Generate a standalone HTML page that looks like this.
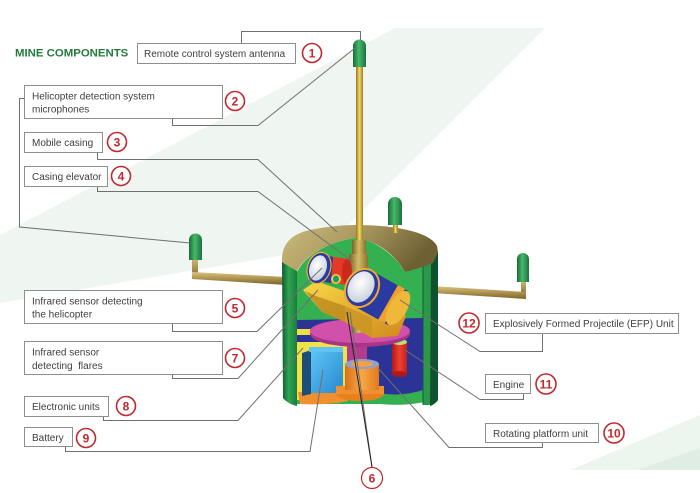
<!DOCTYPE html>
<html><head><meta charset="utf-8">
<style>
html,body{margin:0;padding:0;background:#fff;}
body{width:700px;height:493px;overflow:hidden;}
svg{display:block;}
.bx{fill:#fff;stroke:#8e8e8e;stroke-width:1;}
.tx{font-family:"Liberation Sans",Arial,sans-serif;font-size:10px;fill:#3e3e3e;}
.cn{fill:none;stroke:#707070;stroke-width:1;}
.ci{fill:#fff;stroke:#c0282e;stroke-width:1.6;}
.nm{font-family:"Liberation Sans",Arial,sans-serif;font-size:12px;font-weight:bold;fill:#c0282e;text-anchor:middle;}
</style></head><body>
<svg width="700" height="493" viewBox="0 0 700 493" xmlns="http://www.w3.org/2000/svg">
<defs>
 <linearGradient id="rod" x1="0" x2="1" y1="0" y2="0"><stop offset="0" stop-color="#9a7420"/><stop offset=".5" stop-color="#f2dc64"/><stop offset="1" stop-color="#a07a22"/></linearGradient>
 <linearGradient id="cap" x1="0" x2="1" y1="0" y2="0"><stop offset="0" stop-color="#1a6a38"/><stop offset=".45" stop-color="#46ba6a"/><stop offset="1" stop-color="#1d7040"/></linearGradient>
 <linearGradient id="bar" x1="0" x2="0" y1="0" y2="1"><stop offset="0" stop-color="#dcc57c"/><stop offset="1" stop-color="#7c6228"/></linearGradient>
 <linearGradient id="lid" x1="0" x2="1" y1="0" y2="0.3"><stop offset="0" stop-color="#cbbb7e"/><stop offset=".45" stop-color="#ad9d62"/><stop offset="1" stop-color="#6f6034"/></linearGradient>
 <linearGradient id="lw" x1="0" x2="1" y1="0" y2="0"><stop offset="0" stop-color="#0f5a32"/><stop offset=".45" stop-color="#2fa650"/><stop offset="1" stop-color="#1b7a3e"/></linearGradient>
 <linearGradient id="col" x1="0" x2="1" y1="0" y2="0"><stop offset="0" stop-color="#7a6428"/><stop offset=".5" stop-color="#d4bc68"/><stop offset="1" stop-color="#8a7230"/></linearGradient>
 <linearGradient id="gold" x1="0" x2="1" y1="0" y2="1"><stop offset="0" stop-color="#f8d848"/><stop offset="1" stop-color="#d08a1c"/></linearGradient>
 <linearGradient id="cyan" x1="0" x2="1" y1="0" y2="1"><stop offset="0" stop-color="#5cc4f4"/><stop offset="1" stop-color="#2a88d0"/></linearGradient>
 <linearGradient id="orng" x1="0" x2="1" y1="0" y2="0"><stop offset="0" stop-color="#d87018"/><stop offset=".5" stop-color="#f8a848"/><stop offset="1" stop-color="#e07a1c"/></linearGradient>
 <linearGradient id="red" x1="0" x2="1" y1="0" y2="0"><stop offset="0" stop-color="#b01818"/><stop offset=".5" stop-color="#f04030"/><stop offset="1" stop-color="#c02020"/></linearGradient>
 <radialGradient id="lens" cx=".4" cy=".4" r=".7"><stop offset="0" stop-color="#ffffff"/><stop offset="1" stop-color="#c4ccd8"/></radialGradient>
</defs>

<!-- background decorations -->
<polygon points="395,28 545,28 325,248 0,303 0,235" fill="#eff5f1"/>
<polygon points="570,470 700,415 700,470" fill="#edf5ef"/>
<polygon points="637,470 700,448 700,470" fill="#e0ede4"/>

<!-- side arms -->
<rect x="192" y="256" width="6" height="23" fill="url(#bar)"/>
<polygon points="192,272 286,277 286,285 192,279" fill="url(#bar)"/>
<path d="M189,260 L189,240 A6.5,6.5 0 0 1 202,240 L202,260 Z" fill="url(#cap)"/>
<rect x="521" y="279" width="5" height="18" fill="url(#bar)"/>
<polygon points="432,286 526,292 526,299 432,293" fill="url(#bar)"/>
<path d="M517,282 L517,259 A6,6 0 0 1 529,259 L529,282 Z" fill="url(#cap)"/>

<!-- casing interior -->
<path d="M297,272 C305,255 330,241 356,238 C375,240 395,255 405,272 L432,263 L432,400 C420,404 400,406 380,404 L297,404 Z" fill="#35b050"/>
<rect x="423" y="263" width="9" height="142" fill="#2a9848"/>
<line x1="423" y1="265" x2="423" y2="405" stroke="#145c32" stroke-width="1"/>
<path d="M431,263 L438,252 L438,400 C436,403 433,405 430,406 Z" fill="#0f5230"/>
<path d="M282,262 L297,271 L297,406 C292,405 286,402 283,398 Z" fill="url(#lw)"/>

<!-- lid -->
<path d="M282,262 C281,246 290,234 310,230 C330,226 345,225 356,225 C395,225 430,232 437,246 L438,252 L433,263 C425,266 414,270 405,272 C395,255 378,241 356,238 C330,241 305,255 297,271 Z" fill="url(#lid)"/>
<!-- top small antenna -->
<rect x="393" y="223" width="5" height="10" fill="url(#rod)"/>
<path d="M388,225 L388,204 A7,7 0 0 1 402,204 L402,225 Z" fill="url(#cap)"/>

<!-- main antenna -->
<rect x="356" y="62" width="7" height="185" fill="url(#rod)"/>
<path d="M353,67 L353,46 A6.5,6.5 0 0 1 366,46 L366,67 Z" fill="url(#cap)"/>

<!-- lower internals -->
<path d="M297,320 L423,318 L423,390 C410,394 395,396 380,393 L297,393 Z" fill="#2b3496"/>
<rect x="297" y="329" width="54" height="6" fill="#f0e040"/>
<rect x="297" y="342" width="52" height="58" fill="#f2e24a"/>
<path d="M298,392 L348,392 L348,401 C335,404 315,405 300,404 Z" fill="#f29030"/>
<polygon points="302,353 311,350 311,394 302,396" fill="#1c4e78"/>
<rect x="309" y="347" width="34" height="5" fill="#62c2f2"/>
<rect x="311" y="352" width="32" height="41" fill="url(#cyan)"/>
<rect x="347" y="338" width="20" height="30" fill="#b43a8e"/>
<ellipse cx="360" cy="394" rx="24" ry="7" fill="#e8801e"/>
<rect x="336" y="386" width="48" height="8" fill="#f09030"/>
<rect x="345" y="364" width="34" height="26" fill="url(#orng)"/>
<ellipse cx="362" cy="364" rx="17" ry="5" fill="#8fa0d0"/>
<ellipse cx="362" cy="364" rx="11" ry="3" fill="#f5a040"/>
<rect x="392" y="342" width="15" height="32" fill="url(#red)"/>
<ellipse cx="399.5" cy="374" rx="7.5" ry="3" fill="#b01818"/>
<ellipse cx="399.5" cy="342" rx="7.5" ry="3" fill="#b8e070"/>
<ellipse cx="360" cy="334" rx="50" ry="13" fill="#a83488"/>
<ellipse cx="360" cy="331" rx="50" ry="12" fill="#d050aa"/>

<!-- central column -->
<rect x="352" y="240" width="14" height="93" fill="url(#col)"/>
<rect x="349" y="254" width="19" height="32" fill="url(#col)"/>

<!-- gold mount -->
<polygon points="303,290 316,281 350,293 352,300 396,300 406,316 398,336 372,338 345,322 322,312" fill="url(#gold)"/>
<polygon points="316,296 345,306 345,322 322,312 305,291" fill="#b8861c" opacity=".75"/>
<polygon points="345,306 372,318 372,338 345,322" fill="#c99424" opacity=".8"/>

<!-- small sensor -->
<polygon points="322,255 348,259 346,285 318,281" fill="#e43a28"/>
<polygon points="322,255 333,257 331,283 318,281" fill="#2a3aa0"/>
<ellipse cx="347" cy="272" rx="5" ry="13" fill="#c82a1c"/>
<ellipse cx="319" cy="268" rx="11.5" ry="16" transform="rotate(18 319 268)" fill="#2a3aa0" stroke="#f0b030" stroke-width="1.2"/>
<ellipse cx="318" cy="268" rx="8.5" ry="13" transform="rotate(18 318 268)" fill="url(#lens)"/>
<ellipse cx="336" cy="279" rx="5" ry="5" fill="#f0d040"/>
<ellipse cx="336" cy="279" rx="3" ry="3.5" fill="#1f9a70"/>

<!-- big sensor -->
<polygon points="372,271 408,291 388,325 352,305" fill="#2a3aa0"/>
<polygon points="398,285 405,289 385,323 378,320" fill="#f0a030"/>
<polygon points="386,314 392,318 398,308 395,300" fill="#e8b030"/>
<ellipse cx="398" cy="308" rx="9" ry="19" transform="rotate(30 398 308)" fill="#f0b838"/>
<ellipse cx="362" cy="288" rx="17" ry="21" transform="rotate(30 362 288)" fill="#f0a830"/>
<ellipse cx="362" cy="288" rx="15" ry="19" transform="rotate(30 362 288)" fill="#2a3aa0"/>
<ellipse cx="361" cy="287" rx="12.5" ry="16.5" transform="rotate(30 361 287)" fill="url(#lens)"/>

<!-- title -->
<text x="15" y="56.5" font-family="Liberation Sans, Arial, sans-serif" font-size="11.4" font-weight="bold" fill="#247a3c">MINE COMPONENTS</text>

<!-- connectors -->
<path class="cn" d="M241.5,43 V31.5 H360.5 V40"/>
<path class="cn" d="M172.5,118 V125.5 H258 L355,48"/>
<path class="cn" d="M24,98.5 H19.5 V227 L190,243"/>
<path class="cn" d="M97.5,152 V159.5 H258 L337,232"/>
<path class="cn" d="M97.5,186 V191.5 H258 L353,262"/>
<path class="cn" d="M172.5,323 V331.5 H257 L322,268"/>
<path class="cn" d="M172.5,374 V378.5 H238 L318,290"/>
<path class="cn" d="M103.5,416 V420.5 H238 L303,348"/>
<path class="cn" d="M65.5,446 V451.5 H310 L323,370"/>
<path class="cn" d="M372,467 L350,312"/>
<path d="M372,467 L347,312" fill="none" stroke="#222" stroke-width="1"/>
<path class="cn" d="M542.5,333 V351.5 H480 L400,300"/>
<path class="cn" d="M523.5,393 V399.5 H480 L405,350"/>
<path class="cn" d="M542.5,442 V447.5 H449 L378,368"/>

<!-- boxes -->
<rect class="bx" x="137.5" y="43.5" width="158" height="20"/>
<text class="tx" x="144" y="57">Remote control system antenna</text>

<rect class="bx" x="24.5" y="85.5" width="198" height="33"/>
<text class="tx" x="32" y="99.5">Helicopter detection system</text>
<text class="tx" x="32" y="112.5">microphones</text>

<rect class="bx" x="24.5" y="132.5" width="78" height="20"/>
<text class="tx" x="32" y="146">Mobile casing</text>

<rect class="bx" x="24.5" y="166.5" width="83" height="20"/>
<text class="tx" x="32" y="180">Casing elevator</text>

<rect class="bx" x="24.5" y="290.5" width="198" height="33"/>
<text class="tx" x="32" y="304.5">Infrared sensor detecting</text>
<text class="tx" x="32" y="317.5">the helicopter</text>

<rect class="bx" x="24.5" y="341.5" width="198" height="33"/>
<text class="tx" x="32" y="355.5">Infrared sensor</text>
<text class="tx" x="32" y="369">detecting&#160; flares</text>

<rect class="bx" x="24.5" y="396.5" width="84" height="20"/>
<text class="tx" x="32" y="410">Electronic units</text>

<rect class="bx" x="24.5" y="427.5" width="48" height="19"/>
<text class="tx" x="32" y="441">Battery</text>

<rect class="bx" x="485.5" y="313.5" width="193" height="20"/>
<text class="tx" x="493" y="327">Explosively Formed Projectile (EFP) Unit</text>

<rect class="bx" x="485.5" y="374.5" width="45" height="19"/>
<text class="tx" x="493" y="388">Engine</text>

<rect class="bx" x="485.5" y="423.5" width="113" height="19"/>
<text class="tx" x="493" y="437">Rotating platform unit</text>

<!-- number circles -->
<circle class="ci" cx="312" cy="53" r="9.5"/><text class="nm" x="312" y="57.3">1</text>
<circle class="ci" cx="235" cy="101" r="9.5"/><text class="nm" x="235" y="105.3">2</text>
<circle class="ci" cx="117" cy="142" r="9.5"/><text class="nm" x="117" y="146.3">3</text>
<circle class="ci" cx="121" cy="176" r="9.5"/><text class="nm" x="121" y="180.3">4</text>
<circle class="ci" cx="235" cy="308" r="9.5"/><text class="nm" x="235" y="312.3">5</text>
<circle class="ci" cx="235" cy="358" r="9.5"/><text class="nm" x="235" y="362.3">7</text>
<circle class="ci" cx="126" cy="406" r="9.5"/><text class="nm" x="126" y="410.3">8</text>
<circle class="ci" cx="86" cy="438" r="9.5"/><text class="nm" x="86" y="442.3">9</text>
<circle class="ci" cx="372" cy="478" r="10.5" style="stroke-width:1.2"/><text class="nm" x="372" y="482.3">6</text>
<circle class="ci" cx="469" cy="323" r="10"/><text class="nm" x="469" y="327.3">12</text>
<circle class="ci" cx="546" cy="384" r="10"/><text class="nm" x="546" y="388.3">11</text>
<circle class="ci" cx="614" cy="433" r="10"/><text class="nm" x="614" y="437.3">10</text>
</svg>
</body></html>
